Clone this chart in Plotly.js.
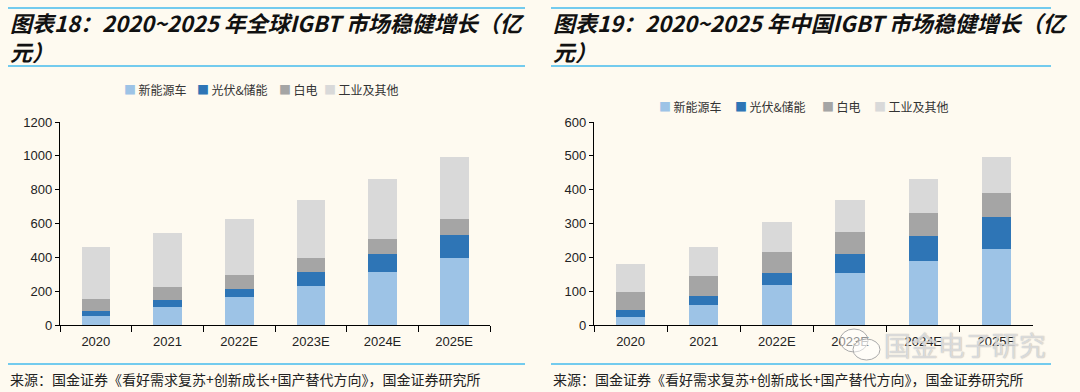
<!DOCTYPE html>
<html><head><meta charset="utf-8">
<script src="https://cdn.plot.ly/plotly-3.0.1.min.js"></script>
<style>html,body{margin:0;padding:0;background:#FEFAF0;}#c{width:1080px;height:392px;}</style>
</head><body><div id="c"></div>
<script>
const years = ['2020','2021','2022E','2023E','2024E','2025E'];
const seriesNames = ['新能源车','光伏&储能','白电','工业及其他'];
const colors = ['#9DC3E6','#2E75B6','#A5A5A5','#D9D9D9'];
// Global IGBT market (亿元)
const globalNEV = [53,109,164,231,314,397];
const globalPV = [30,39,51,81,106,134];
const globalWhite = [73,79,83,87,89,95];
const globalIndustry = [304,316,330,341,353,369];
// China IGBT market (亿元)
const chinaNEV = [23,60,117,153,189,226];
const chinaPV = [21,27,37,57,74,94];
const chinaWhite = [55,57,61,64,67,71];
const chinaIndustry = [81,86,90,96,102,107];

const W=1080,H=392;
const px = x=>x/W, py = y=>1-y/H;

const gSeries = [globalNEV, globalPV, globalWhite, globalIndustry];
const cSeries = [chinaNEV, chinaPV, chinaWhite, chinaIndustry];
const traces = [];
gSeries.forEach((v,i)=>traces.push({type:'bar',x:years,y:v,name:seriesNames[i],marker:{color:colors[i]},xaxis:'x',yaxis:'y',showlegend:false,hoverinfo:'none'}));
cSeries.forEach((v,i)=>traces.push({type:'bar',x:years,y:v,name:seriesNames[i],marker:{color:colors[i]},xaxis:'x2',yaxis:'y2',showlegend:false,hoverinfo:'none'}));

const tickFont={family:'Liberation Sans, Arial, sans-serif',size:13,color:'#222'};
const axCommon={type:'category',showgrid:false,zeroline:false,showline:true,linecolor:'#000',linewidth:1.2,ticks:'outside',tickcolor:'#000',ticklen:5,tickfont:tickFont,fixedrange:true};
const lineColor='#45BBEE';
const titleFont={family:'Noto Sans CJK SC, sans-serif',size:22,color:'#111',weight:'bold',style:'italic'};
const srcFont={family:'Noto Sans CJK SC, sans-serif',size:14,color:'#222'};
const legFont={family:'Noto Sans CJK SC, sans-serif',size:12,color:'#333'};

// legend entry left positions (px) and rows
const legLeft=[[122,195,277,322],[657,733,820,872]];
const legY=[90,106];

const annotations=[
  {xref:'paper',yref:'paper',x:px(8),y:py(22),xanchor:'left',yanchor:'middle',align:'left',showarrow:false,text:'图表18：2020~2025 年全球IGBT 市场稳健增长（亿',font:titleFont},
  {xref:'paper',yref:'paper',x:px(8),y:py(51),xanchor:'left',yanchor:'middle',align:'left',showarrow:false,text:'元）',font:titleFont},
  {xref:'paper',yref:'paper',x:px(551),y:py(22),xanchor:'left',yanchor:'middle',align:'left',showarrow:false,text:'图表19：2020~2025 年中国IGBT 市场稳健增长（亿',font:titleFont},
  {xref:'paper',yref:'paper',x:px(551),y:py(51),xanchor:'left',yanchor:'middle',align:'left',showarrow:false,text:'元）',font:titleFont},
  {xref:'paper',yref:'paper',x:px(8),y:py(379),xanchor:'left',yanchor:'middle',showarrow:false,text:'来源：国金证券《看好需求复苏+创新成长+国产替代方向》，国金证券研究所',font:srcFont},
  {xref:'paper',yref:'paper',x:px(551),y:py(379),xanchor:'left',yanchor:'middle',showarrow:false,text:'来源：国金证券《看好需求复苏+创新成长+国产替代方向》，国金证券研究所',font:srcFont},
  {xref:'paper',yref:'paper',x:px(965),y:py(344),xanchor:'center',yanchor:'middle',showarrow:false,text:'国金电子研究',font:{family:'Noto Sans CJK SC, sans-serif',size:27,color:'rgba(255,255,255,0.55)',shadow:'0 0 1px #999, 0 0 1px #999'}}
];
legLeft.forEach((row,r)=>row.forEach((x,i)=>{
  annotations.push({xref:'paper',yref:'paper',x:px(x),y:py(legY[r]),xanchor:'left',yanchor:'middle',showarrow:false,
    text:'<span style="color:'+colors[i]+'">■</span>\u2009'+seriesNames[i],font:legFont});
}));

const layout={
  width:W,height:H,margin:{l:0,r:0,t:0,b:0},
  paper_bgcolor:'#FEFAF0',plot_bgcolor:'#FEFAF0',
  barmode:'stack',bargap:0.6,showlegend:false,
  xaxis:Object.assign({},axCommon,{domain:[px(60),px(490)],anchor:'y',tickson:'boundaries',ticklen:6,ticklabelstandoff:4}),
  yaxis:Object.assign({},axCommon,{type:'linear',domain:[py(325),py(122)],anchor:'x',range:[0,1200],dtick:200,ticklen:4}),
  xaxis2:Object.assign({},axCommon,{domain:[px(594),px(1033)],anchor:'y2',tickson:'boundaries',ticklen:6,ticklabelstandoff:4}),
  yaxis2:Object.assign({},axCommon,{type:'linear',domain:[py(325),py(122)],anchor:'x2',range:[0,600],dtick:100,ticklen:4}),
  shapes:[
    {type:'line',xref:'paper',yref:'paper',x0:px(8),x1:px(525),y0:py(8),y1:py(8),line:{color:lineColor,width:1.5}},
    {type:'line',xref:'paper',yref:'paper',x0:px(8),x1:px(525),y0:py(66),y1:py(66),line:{color:lineColor,width:1.5}},
    {type:'line',xref:'paper',yref:'paper',x0:px(8),x1:px(525),y0:py(364),y1:py(364),line:{color:lineColor,width:1.5}},
    {type:'line',xref:'paper',yref:'paper',x0:px(551),x1:px(1051),y0:py(8),y1:py(8),line:{color:lineColor,width:1.5}},
    {type:'line',xref:'paper',yref:'paper',x0:px(551),x1:px(1051),y0:py(66),y1:py(66),line:{color:lineColor,width:1.5}},
    {type:'line',xref:'paper',yref:'paper',x0:px(551),x1:px(1051),y0:py(364),y1:py(364),line:{color:lineColor,width:1.5}},
    {type:'circle',xref:'paper',yref:'paper',x0:px(840),x1:px(868),y0:py(352),y1:py(329),fillcolor:'rgba(255,255,255,0.5)',line:{color:'#aaa',width:1}},
    {type:'circle',xref:'paper',yref:'paper',x0:px(853),x1:px(880),y0:py(360),y1:py(339),fillcolor:'rgba(255,255,255,0.5)',line:{color:'#aaa',width:1}}
  ],
  annotations:annotations
};
Plotly.newPlot('c',traces,layout,{staticPlot:true,displayModeBar:false});
</script></body></html>
